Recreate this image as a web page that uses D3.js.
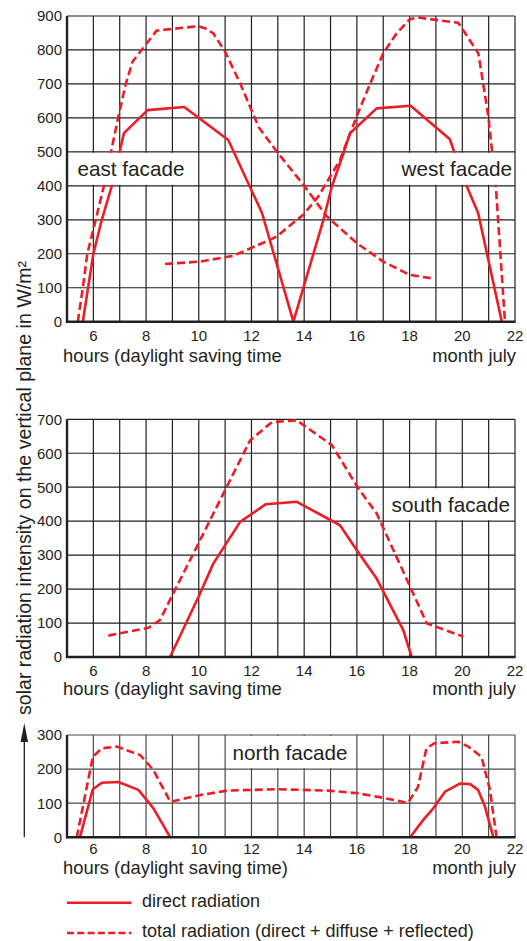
<!DOCTYPE html>
<html><head><meta charset="utf-8">
<script src="https://cdn.jsdelivr.net/npm/d3@7"></script>
<style>
html,body{margin:0;padding:0;background:#fff;}
svg{display:block;}
text{font-family:"Liberation Sans",Arial,Helvetica,sans-serif;fill:#231f20;}
</style></head>
<body>
<svg id="chart" width="527" height="941"></svg>
<script>
// ---------------- data ----------------
const hourTicks = [6, 8, 10, 12, 14, 16, 18, 20, 22];
const topTicks = [0, 100, 200, 300, 400, 500, 600, 700, 800, 900];
const midTicks = [0, 100, 200, 300, 400, 500, 600, 700];
const botTicks = [0, 100, 200, 300];

// east / west facade (hour, W/m2)
const eastDirect = [[5.6,0],[6.0,200],[6.32,300],[6.7,400],[7.16,555],[8.06,623],[9.45,632],[11.12,535],[12.4,320],[13.59,0]];
const eastTotal  = [[5.41,0],[5.6,100],[5.77,200],[6.09,300],[6.4,400],[6.94,600],[7.23,700],[7.49,766],[8.4,857],[9.98,870],[10.26,863],[10.55,849],[11.0,795],[11.57,702],[12.0,623],[12.28,572],[12.96,501],[13.97,403],[14.86,310],[16.0,231],[17.0,177],[18.0,138],[18.9,127]];
const westDirect = [[13.59,0],[14.73,300],[15.05,398],[15.49,496],[15.74,555],[16.75,628],[18.04,636],[19.53,537],[20.0,430],[20.6,320],[21.5,0]];
const westTotal  = [[8.72,170],[10.05,177],[11.31,194],[12.7,241],[12.96,251],[13.72,300],[13.97,315],[14.54,369],[15.36,476],[16.0,606],[16.5,700],[17.0,790],[17.51,849],[18.0,890],[18.27,896],[19.85,880],[20.61,790],[20.99,604],[21.28,390],[21.62,0]];
// south facade
const southDirect = [[8.91,0],[10.05,187],[10.55,275],[11.57,398],[12.55,450],[13.72,457],[15.36,388],[15.99,315],[16.75,231],[17.76,79],[18.08,0]];
const southTotal  = [[6.57,63],[8.09,86],[8.53,109],[9.03,187],[10.05,344],[11.06,501],[11.95,638],[12.7,687],[12.83,692],[13.72,697],[15.05,624],[16.06,496],[16.75,423],[18.02,207],[18.65,99],[20.04,60]];
// north facade
const northDirectAm = [[5.49,0],[5.98,141],[6.32,160],[6.95,162],[7.71,139],[8.28,85],[8.92,0]];
const northDirectPm = [[18.02,0],[18.52,51],[18.9,85],[19.35,134],[19.92,158],[20.3,156],[20.6,139],[20.86,90],[21.18,0]];
const northTotal = [[5.37,0],[5.98,236],[6.32,261],[6.89,266],[7.78,241],[8.28,197],[8.92,104],[10.06,124],[11.08,137],[12.99,141],[14.9,137],[16.04,129],[16.92,117],[17.94,101],[18.32,148],[18.64,261],[18.95,276],[19.85,280],[20.23,266],[20.73,236],[21.05,139],[21.3,0]];

const RED = "#ee1c25";
const INK = "#231f20";

const svg = d3.select("#chart");
const x = d3.scaleLinear().domain([5, 22]).range([67, 515]);

const panels = [
  {ticks: topTicks, max: 900, y0: 321.7, y1: 16, grid: INK, tickDy: 19, titleDy: 40,
   series: [[eastDirect,false],[eastTotal,true],[westDirect,false],[westTotal,true]],
   labels: [{t:"east facade", h0:5, h1:10, v0:400, v1:500, tx:77.5, anchor:"start"},
            {t:"west facade", h0:17, h1:22, v0:400, v1:500, tx:512, anchor:"end"}],
   title: "hours (daylight saving time"},
  {ticks: midTicks, max: 700, y0: 657, y1: 419.3, grid: INK, tickDy: 19, titleDy: 38,
   series: [[southDirect,false],[southTotal,true]],
   labels: [{t:"south facade", h0:17, h1:22, v0:400, v1:500, tx:510, anchor:"end"}],
   title: "hours (daylight saving time"},
  {ticks: botTicks, max: 300, y0: 837.3, y1: 735, grid: "#4a4a4a", tickDy: 16.5, titleDy: 36.5,
   series: [[northDirectAm,false],[northDirectPm,false],[northTotal,true]],
   labels: [{t:"north facade", h0:11, h1:16, v0:200, v1:300, tx:290, anchor:"middle"}],
   title: "hours (daylight saving time)"}
];

panels.forEach(p => {
  const y = d3.scaleLinear().domain([0, p.max]).range([p.y0, p.y1]);
  const g = svg.append("g");
  // grid
  const hs = d3.range(6, 23);
  g.selectAll(".vg").data(hs).join("line")
    .attr("x1", d => x(d)).attr("x2", d => x(d))
    .attr("y1", y(p.max)).attr("y2", y(0))
    .attr("stroke", p.grid).attr("stroke-width", 1.2);
  g.selectAll(".hg").data(p.ticks).join("line")
    .attr("x1", x(5)).attr("x2", x(22))
    .attr("y1", d => y(d)).attr("y2", d => y(d))
    .attr("stroke", p.grid).attr("stroke-width", 1.2);
  // curves
  const line = d3.line().x(d => x(d[0])).y(d => y(d[1]));
  p.series.forEach(([data, dashed]) => {
    g.append("path").datum(data).attr("d", line)
      .attr("fill", "none").attr("stroke", RED).attr("stroke-width", 2.6)
      .attr("stroke-linejoin", "round")
      .attr("stroke-dasharray", dashed ? "8,4" : null);
  });
  // label boxes
  p.labels.forEach(l => {
    g.append("rect")
      .attr("x", x(l.h0) + 1).attr("y", y(l.v1) + 1)
      .attr("width", x(l.h1) - x(l.h0) - 2).attr("height", y(l.v0) - y(l.v1) - 2)
      .attr("fill", "#fff");
    g.append("text").attr("x", l.tx).attr("y", (y(l.v0) + y(l.v1)) / 2 + 7.5)
      .attr("text-anchor", l.anchor).attr("font-size", 20.7).text(l.t);
  });
  // axes lines
  g.append("line").attr("x1", x(5)).attr("x2", x(5)).attr("y1", y(p.max)).attr("y2", y(0) + 1)
    .attr("stroke", INK).attr("stroke-width", 2.4);
  g.append("line").attr("x1", x(5) - 1).attr("x2", x(22) + 0.6).attr("y1", y(0)).attr("y2", y(0))
    .attr("stroke", INK).attr("stroke-width", 2.6);
  // y ticks
  g.selectAll(".yt").data(p.ticks).join("text")
    .attr("x", 62).attr("y", d => y(d) + 5.3)
    .attr("text-anchor", "end").attr("font-size", 15).text(d => d);
  // x ticks
  g.selectAll(".xt").data(hourTicks).join("text")
    .attr("x", d => x(d)).attr("y", y(0) + p.tickDy)
    .attr("text-anchor", "middle").attr("font-size", 15).text(d => d);
  // titles
  g.append("text").attr("x", 63).attr("y", y(0) + p.titleDy)
    .attr("font-size", 18.4).text(p.title);
  g.append("text").attr("x", 516).attr("y", y(0) + p.titleDy)
    .attr("text-anchor", "end").attr("font-size", 18.4).text("month july");
});

// vertical axis label + arrow
svg.append("text").attr("transform", "translate(31,488) rotate(-90)")
  .attr("text-anchor", "middle").attr("font-size", 19.6)
  .text("solar radiation intensity on the vertical plane in W/m²");
svg.append("line").attr("x1", 24.3).attr("x2", 24.3).attr("y1", 837).attr("y2", 738)
  .attr("stroke", INK).attr("stroke-width", 1.3);
svg.append("path").attr("d", "M24.3,723 L20.6,742 L28,742 Z").attr("fill", INK);

// legend
const legend = [{t:"direct radiation", dash:null, y:902.7},
                {t:"total radiation (direct + diffuse + reflected)", dash:"7,3.3", y:933}];
legend.forEach(l => {
  svg.append("line").attr("x1", 67).attr("x2", 131.5).attr("y1", l.y).attr("y2", l.y)
    .attr("stroke", RED).attr("stroke-width", 2.6).attr("stroke-dasharray", l.dash);
  svg.append("text").attr("x", 142).attr("y", l.y + 3.8).attr("font-size", 18).text(l.t);
});
</script>
</body></html>
